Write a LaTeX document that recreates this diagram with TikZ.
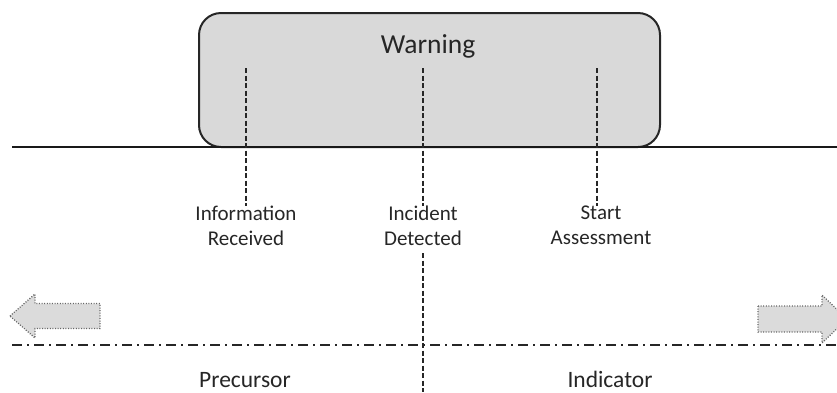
\documentclass[tikz,border=0pt]{standalone}
\usepackage{fontspec}
\setmainfont{Carlito}
\begin{document}
\begin{tikzpicture}[x=1pt,y=-1pt,
  lbl/.style={align=center, font=\fontsize{21}{25}\selectfont, text=black!85, inner sep=0pt, anchor=north},
  title/.style={font=\fontsize{27.5}{30}\selectfont, text=black!85, inner sep=0pt, anchor=base},
  phase/.style={font=\fontsize{23.5}{28}\selectfont, text=black!85, inner sep=0pt, anchor=base},
  warnbox/.style={draw=black!85, fill=gray!30, line width=2pt, rounded corners=22pt, inner sep=0pt},
  tick/.style={draw=black!85, line width=1.8pt, dash pattern=on 5pt off 2.5pt},
  axis/.style={draw=black!90, line width=2pt},
  divider/.style={draw=black!85, line width=2pt, dash pattern=on 10pt off 5pt on 2pt off 5pt},
  shiftarrow/.style={fill=gray!28, draw=black!60, line width=1.3pt, dash pattern=on 1pt off 1.6pt}]
\useasboundingbox (0,0) rectangle (837,392);
\clip (0,0) rectangle (837,392);

% warning window
\node[warnbox, minimum width=461pt, minimum height=134pt] (warnbox) at (429.5,80) {};
\node[title] (warning) at (428,53) {Warning};

% time axis
\coordinate (axisL) at (12,147);
\coordinate (axisR) at (837,147);
\draw[axis] (axisL) -- (axisR);

% events
\node[lbl] (info) at (246,206) {Information\\Received};
\node[lbl] (incident) at (423,206) {Incident\\Detected};
\node[lbl] (start) at (601,206) {Start\\Assessment};

\coordinate (infoTop) at (246,68);
\coordinate (incidentTop) at (423,68);
\coordinate (startTop) at (597,68);
\coordinate (incidentBottom) at (423,392);

\draw[tick] (infoTop) -- (infoTop |- info.north);
\draw[tick] (incidentTop) -- (incidentTop |- incident.north);
\draw[tick] (startTop) -- (startTop |- start.north);
\draw[tick, shorten <=7pt] (incidentTop |- incident.south) -- (incidentBottom);

% precursor / indicator divider
\coordinate (divL) at (12,345);
\coordinate (divR) at (837,345);
\draw[divider] (divL) -- (divR);

% direction arrows
\draw[shiftarrow] (10,316) -- (35,294) -- (35,303.5) -- (100,303.5) -- (100,328.5)
  -- (35,328.5) -- (35,338) -- cycle;
\draw[shiftarrow] (758,306) -- (822,306) -- (822,295) -- (847,319) -- (822,343)
  -- (822,332) -- (758,332) -- cycle;

\node[phase] (precursor) at (245,387) {Precursor};
\node[phase] (indicator) at (610,387) {Indicator};
\end{tikzpicture}
\end{document}
